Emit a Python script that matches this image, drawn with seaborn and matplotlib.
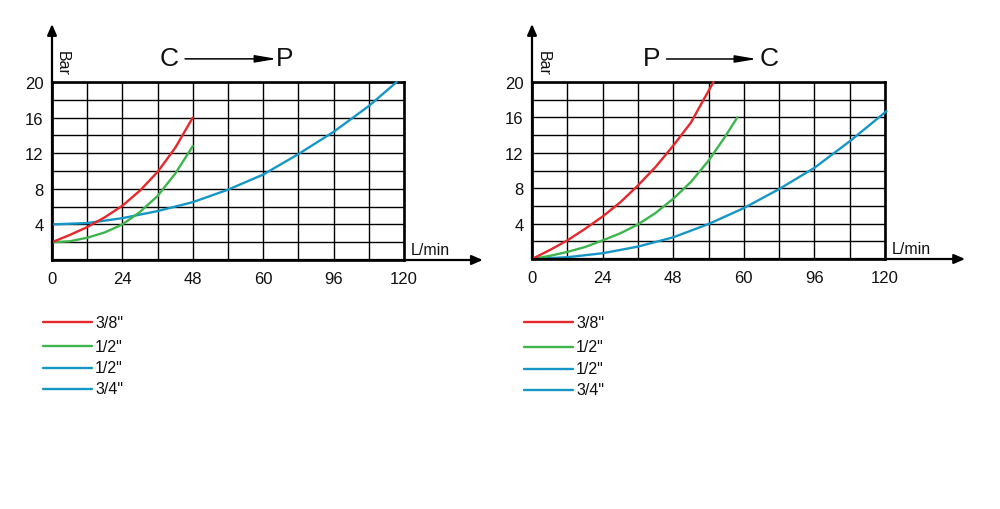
import matplotlib
matplotlib.use("Agg")
import matplotlib.pyplot as plt
from matplotlib.lines import Line2D
import seaborn as sns

# Left chart: C -> P (flow L/min vs pressure Bar)
cp_red_x = [0, 6, 12, 18, 24, 30, 36, 42, 48]
cp_red_y = [2, 2.8, 3.7, 4.8, 6.1, 7.8, 9.9, 12.6, 16.0]
cp_green_x = [0, 6, 12, 18, 24, 30, 36, 42, 48]
cp_green_y = [2, 2.1, 2.5, 3.1, 4.0, 5.4, 7.2, 9.7, 12.8]
cp_blue_x = [0, 12, 24, 36, 48, 60, 72, 84, 96, 108, 117.5]
cp_blue_y = [4.0, 4.15, 4.7, 5.5, 6.5, 7.9, 9.6, 11.9, 14.4, 17.3, 20.0]

# Right chart: P -> C
pc_red_x = [0, 6, 12, 18, 24, 30, 36, 42, 48, 54, 58, 61.7]
pc_red_y = [0, 1.0, 2.1, 3.4, 4.8, 6.4, 8.3, 10.4, 12.8, 15.4, 17.8, 20.0]
pc_green_x = [0, 6, 12, 18, 24, 30, 36, 42, 48, 54, 60, 65.6, 69.8]
pc_green_y = [0, 0.35, 0.8, 1.35, 2.1, 2.9, 3.9, 5.2, 6.8, 8.7, 11.1, 13.8, 16.0]
pc_blue_x = [0, 12, 24, 36, 48, 60, 72, 84, 96, 108, 120.5]
pc_blue_y = [0, 0.2, 0.65, 1.4, 2.45, 3.95, 5.75, 7.9, 10.3, 13.3, 16.7]

x_tick_pos = [0, 24, 48, 72, 96, 120]
x_tick_labels = ["0", "24", "48", "60", "96", "120"]
y_tick_pos = [4, 8, 12, 16, 20]
legend_labels = ['3/8"', '1/2"', '1/2"', '3/4"']

RED = "#e4282c"
GREEN = "#3db54c"
BLUE = "#1696c6"
TXT = "#111111"
legend_colors = [RED, GREEN, BLUE, BLUE]

sns.set_style("white")
plt.rcParams["font.family"] = ["Liberation Sans", "DejaVu Sans"]

fig = plt.figure(figsize=(10, 5.1), dpi=100)
W, H = 1000, 510


def make_axes(left, top, right, bottom):
    return fig.add_axes([left / W, (H - bottom) / H, (right - left) / W, (bottom - top) / H])


def style_axes(ax, title_left, title_right, xtip, ytip, bar_x, title_pos):
    ax.set_xlim(0, 120)
    ax.set_ylim(0, 20)
    ax.set_xticks(x_tick_pos)
    ax.set_xticklabels(x_tick_labels)
    ax.set_xticks(range(0, 121, 12), minor=True)
    ax.set_yticks(y_tick_pos)
    ax.set_yticks(range(0, 21, 2), minor=True)
    ax.tick_params(which="both", length=0, labelsize=12, colors=TXT)
    ax.tick_params(axis="x", pad=8)
    ax.tick_params(axis="y", pad=6)
    ax.grid(which="both", color="black", linewidth=1.0)
    ax.set_axisbelow(True)
    ax.set_xlabel("")
    ax.set_ylabel("")
    for sp in ax.spines.values():
        sp.set_color("black")
        sp.set_linewidth(1.9)

    arrow_kw = dict(arrowstyle="-|>,head_length=0.65,head_width=0.28", color="black",
                    lw=1.6, shrinkA=0, shrinkB=0, mutation_scale=10)
    ax.annotate("", xy=(xtip, 0), xytext=(0, 0), xycoords="axes fraction",
                arrowprops=arrow_kw, annotation_clip=False)
    ax.annotate("", xy=(0, ytip), xytext=(0, 0), xycoords="axes fraction",
                arrowprops=arrow_kw, annotation_clip=False)

    ax.text(1.02, 0.015, "L/min", transform=ax.transAxes, fontsize=11.5,
            ha="left", va="bottom", color=TXT)
    ax.text(bar_x, 1.178, "Bar", transform=ax.transAxes, fontsize=11.5,
            rotation=270, ha="center", va="top", color=TXT)

    c_x, a0, a1, p_x, ty = title_pos
    ax.text(c_x, ty, title_left, transform=ax.transAxes, fontsize=19,
            ha="center", va="center", color=TXT)
    ax.text(p_x, ty, title_right, transform=ax.transAxes, fontsize=19,
            ha="center", va="center", color=TXT)
    ax.annotate("", xy=(a1, ty - 0.005), xytext=(a0, ty - 0.005), xycoords="axes fraction",
                arrowprops=dict(arrowstyle="-|>,head_length=1.3,head_width=0.22",
                                color="black", lw=1.1, shrinkA=0, shrinkB=0,
                                mutation_scale=10),
                annotation_clip=False)


def draw_series(ax, series):
    for xs, ys, col in series:
        sns.lineplot(x=xs, y=ys, ax=ax, color=col, linewidth=1.7, sort=False,
                     estimator=None, clip_on=False, zorder=3,
                     solid_joinstyle="round", solid_capstyle="round")


def draw_legend(x0, x1, tx, rows):
    for lab, col, y in zip(legend_labels, legend_colors, rows):
        fig.add_artist(Line2D([x0 / W, x1 / W], [(H - y) / H, (H - y) / H],
                              color=col, linewidth=1.7))
        fig.text(tx / W, (H - y) / H, lab, fontsize=11.5, ha="left", va="center",
                 color=TXT)


ax1 = make_axes(52, 83, 404, 261)
draw_series(ax1, [(cp_blue_x, cp_blue_y, BLUE),
                  (cp_green_x, cp_green_y, GREEN),
                  (cp_red_x, cp_red_y, RED)])
style_axes(ax1, "C", "P", 1.224, 1.326, 0.028, (0.334, 0.378, 0.639, 0.662, 1.135))

ax2 = make_axes(532, 83, 885, 260)
draw_series(ax2, [(pc_blue_x, pc_blue_y, BLUE),
                  (pc_green_x, pc_green_y, GREEN),
                  (pc_red_x, pc_red_y, RED)])
style_axes(ax2, "P", "C", 1.227, 1.328, 0.031, (0.339, 0.381, 0.637, 0.672, 1.135))

draw_legend(43, 92, 95, [323, 347, 369, 390])
draw_legend(524, 573, 576, [323, 348, 370, 391])

fig.savefig("out.png", dpi=100)
